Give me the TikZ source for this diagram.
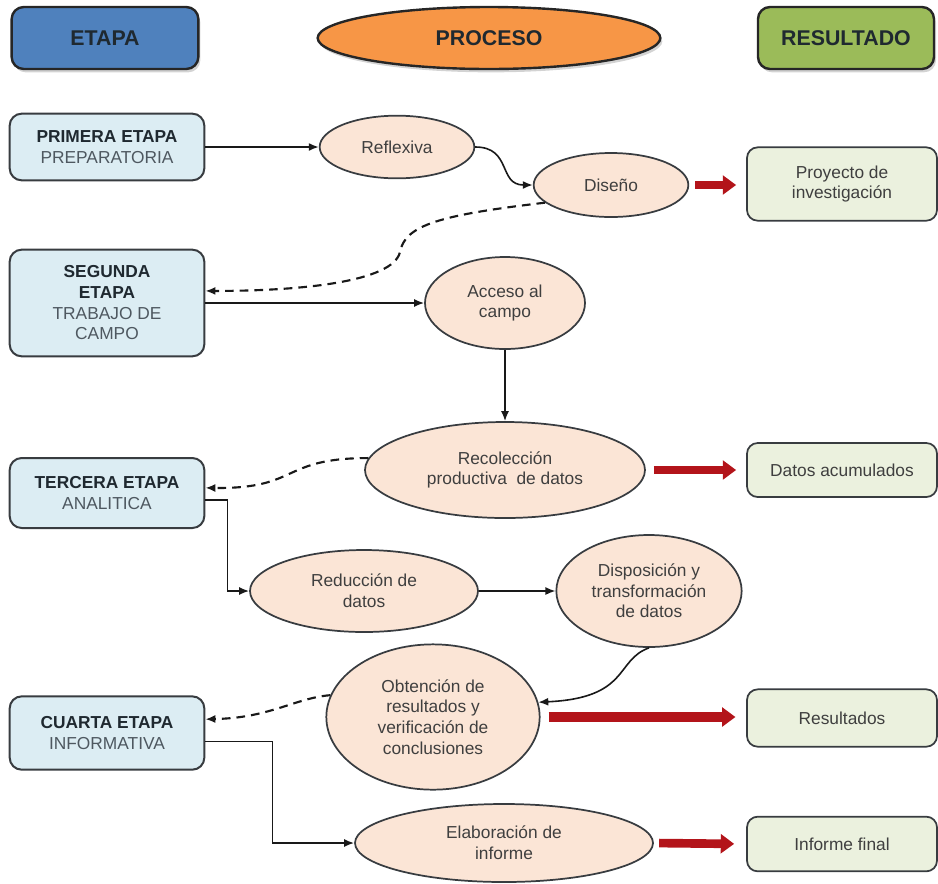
\documentclass[tikz,border=0pt]{standalone}
\usepackage{fontspec}
\setmainfont{Liberation Sans}
\usetikzlibrary{shapes.geometric}
\usetikzlibrary{arrows.meta}
\usetikzlibrary{shadows}
\usetikzlibrary{positioning}

\definecolor{etapablue}{HTML}{4F81BD}
\definecolor{procesoorange}{HTML}{F79646}
\definecolor{resultgreen}{HTML}{9BBB59}
\definecolor{stagefill}{HTML}{DCEDF3}
\definecolor{procfill}{HTML}{FBE5D6}
\definecolor{resfill}{HTML}{EBF1DE}
\definecolor{edgegray}{HTML}{383C40}
\definecolor{stagehead}{HTML}{1F2930}
\definecolor{stagesub}{HTML}{4E5860}
\definecolor{proctext}{HTML}{3F3F3F}
\definecolor{outred}{HTML}{B3141A}

\newcommand{\procfont}{\fontsize{13}{15.5}\selectfont}

\begin{document}
\begin{tikzpicture}[x=0.75pt, y=-0.75pt,
    header/.style={draw=black!85, line width=1.8pt, text=stagehead, inner sep=0pt,
      font=\fontsize{16}{19}\selectfont\bfseries, minimum height=46.5pt,
      drop shadow={opacity=0.35, shadow xshift=1.5pt, shadow yshift=-2.5pt}},
    stagebox/.style={draw=edgegray, line width=1.5pt, rounded corners=9pt, fill=stagefill,
      align=center, inner sep=0pt, minimum width=146pt, font=\procfont},
    procell/.style={ellipse, draw=edgegray, line width=1.3pt, fill=procfill, text=proctext,
      align=center, inner sep=0pt, font=\procfont},
    resbox/.style={draw=edgegray, line width=1.3pt, rounded corners=8pt, fill=resfill, text=proctext,
      align=center, inner sep=0pt, minimum width=142.5pt, font=\procfont},
    flow/.style={-{Latex[length=7.5pt,width=6pt]}, line width=1.2pt, black!90},
    feedback/.style={flow, line width=1.6pt, dash pattern=on 6.5pt off 4.5pt},
    outarrow/.style={-{Triangle[length=10pt,width=14pt]}, line width=6.5pt, outred}
  ]
  \useasboundingbox (0,0) rectangle (938,883);

  % Column headers
  \node[header, fill=etapablue, rounded corners=9pt, minimum width=140pt] (etapa) at (105,38) {ETAPA};
  \node[header, ellipse, fill=procesoorange, minimum width=257pt] (proceso) at (489,38) {PROCESO};
  \node[header, fill=resultgreen, rounded corners=9pt, minimum width=132pt] (resultado) at (846,38) {RESULTADO};

  % Stages
  \node[stagebox, minimum height=50pt] (primera) at (107,147)
    {\textbf{\color{stagehead}PRIMERA ETAPA}\\\color{stagesub}PREPARATORIA};
  \node[stagebox, minimum height=80pt] (segunda) at (107,303)
    {\textbf{\color{stagehead}SEGUNDA}\\\textbf{\color{stagehead}ETAPA}\\\color{stagesub}TRABAJO DE\\\color{stagesub}CAMPO};
  \node[stagebox, minimum height=52.5pt] (tercera) at (107,493)
    {\textbf{\color{stagehead}TERCERA ETAPA}\\\color{stagesub}ANALITICA};
  \node[stagebox, minimum height=55pt] (cuarta) at (107,733)
    {\textbf{\color{stagehead}CUARTA ETAPA}\\\color{stagesub}INFORMATIVA};

  % Processes
  \node[procell, minimum width=116pt, minimum height=47pt] (reflexiva) at (397,147) {Reflexiva};
  \node[procell, minimum width=116pt, minimum height=48pt] (diseno) at (611,185) {Diseño};
  \node[procell, minimum width=120pt, minimum height=69pt] (acceso) at (505,303) {Acceso al\\campo};
  \node[procell, minimum width=210pt, minimum height=72pt] (recoleccion) at (505,470)
    {Recolección\\productiva~ de datos};
  \node[procell, minimum width=171pt, minimum height=61.5pt] (reduccion) at (364,591) {Reducción de\\datos};
  \node[procell, minimum width=139pt, minimum height=84pt] (disposicion) at (649,591)
    {Disposición y\\transformación\\de datos};
  \node[procell, minimum width=160pt, minimum height=109pt] (obtencion) at (433,717)
    {Obtención de\\resultados y\\verificación de\\conclusiones};
  \node[procell, minimum width=223.5pt, minimum height=58.5pt] (elaboracion) at (504,843)
    {Elaboración de\\informe};

  % Results
  \node[resbox, minimum height=55pt] (proyecto) at (842,184) {Proyecto de\\investigación};
  \node[resbox, minimum height=40.5pt] (datos) at (842,470) {Datos acumulados};
  \node[resbox, minimum height=43pt] (resultados) at (842,718) {Resultados};
  \node[resbox, minimum height=41pt] (informe) at (842,844) {Informe final};

  % Flow between stages and processes
  \draw[flow] (primera) -- (reflexiva);
  \draw[flow] (reflexiva.east) .. controls (512,147) and (498,185) .. (diseno.west);
  \draw[feedback] (diseno.195) .. controls (440,215) and (405,225) .. (400,252)
    .. controls (393,282) and (300,291) .. (segunda.7);
  \draw[flow] (segunda) -- (acceso);
  \draw[flow] (acceso) -- (recoleccion);
  \draw[feedback] (recoleccion.175) .. controls (280,458) and (300,489) .. (tercera.3);
  \draw[flow] (tercera.-4) -- ++(22,0) |- (reduccion.west);
  \draw[flow] (reduccion) -- (disposicion);
  \draw[flow] (disposicion.south) .. controls (615,660) and (630,698) .. (obtencion.8);
  \draw[feedback] (obtencion.168) .. controls (295,698) and (270,718) .. (cuarta.8);
  \draw[flow] (cuarta.-5) -- ++(67,0) |- (elaboracion.west);

  % Outputs
  \draw[outarrow, shorten <=4.5pt, shorten >=7.5pt] (diseno.east) -- (diseno.east -| proyecto.west);
  \draw[outarrow, shorten <=6pt, shorten >=7.5pt] (recoleccion.east) -- (datos.west);
  \draw[outarrow, line width=7.5pt, shorten <=6pt, shorten >=8pt] (obtencion.east) -- (obtencion.east -| resultados.west);
  \draw[outarrow, shorten <=4pt, shorten >=9pt] (elaboracion.east) -- (informe.west);
\end{tikzpicture}
\end{document}
